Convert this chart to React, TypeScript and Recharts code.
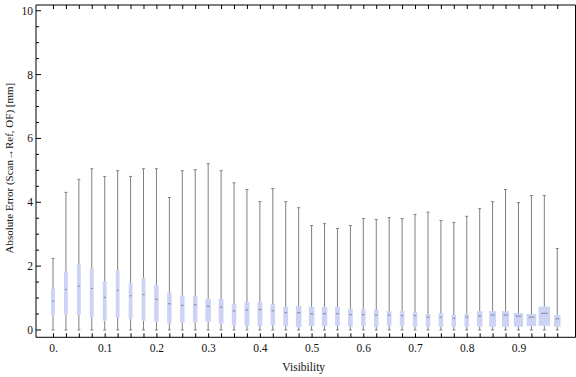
import { ComposedChart, Bar, XAxis, YAxis, Label } from 'recharts';

const visibility = [
  0, 0.025, 0.05, 0.075, 0.1, 0.125, 0.15, 0.175, 0.2, 0.225,
  0.25, 0.275, 0.3, 0.325, 0.35, 0.375, 0.4, 0.425, 0.45, 0.475,
  0.5, 0.525, 0.55, 0.575, 0.6, 0.625, 0.65, 0.675, 0.7, 0.725,
  0.75, 0.775, 0.8, 0.825, 0.85, 0.875, 0.9, 0.925, 0.95, 0.975,
];

// whisker top (max)
const maxErr = [
  2.24, 4.31, 4.72, 5.05, 4.81, 4.99, 4.81, 5.05, 5.05, 4.15,
  4.99, 5.02, 5.21, 4.99, 4.61, 4.4, 4.02, 4.43, 4.02, 3.83,
  3.27, 3.33, 3.18, 3.27, 3.49, 3.46, 3.52, 3.49, 3.62, 3.69,
  3.43, 3.37, 3.56, 3.8, 4.02, 4.4, 3.99, 4.21, 4.21, 2.55,
];

const q3Err = [
  1.28, 1.83, 2.06, 1.93, 1.52, 1.87, 1.47, 1.63, 1.41, 1.17,
  1.09, 1.06, 0.97, 0.97, 0.81, 0.875, 0.875, 0.81, 0.72, 0.75,
  0.72, 0.72, 0.72, 0.66, 0.66, 0.625, 0.59, 0.59, 0.56, 0.5,
  0.53, 0.47, 0.5, 0.59, 0.59, 0.59, 0.53, 0.5, 0.73, 0.47,
];

const medianErr = [
  0.9, 1.27, 1.375, 1.3, 1.02, 1.24, 1.07, 1.11, 0.96, 0.82,
  0.77, 0.79, 0.74, 0.71, 0.6, 0.625, 0.64, 0.6, 0.54, 0.54,
  0.51, 0.51, 0.51, 0.48, 0.48, 0.46, 0.46, 0.45, 0.45, 0.4,
  0.4, 0.365, 0.4, 0.43, 0.47, 0.47, 0.43, 0.4, 0.52, 0.35,
];

const q1Err = [
  0.45, 0.48, 0.48, 0.4, 0.29, 0.375, 0.34, 0.29, 0.26, 0.2,
  0.23, 0.23, 0.26, 0.2, 0.16, 0.125, 0.125, 0.16, 0.125, 0.09,
  0.125, 0.125, 0.125, 0.09, 0.125, 0.09, 0.125, 0.13, 0.1, 0.1,
  0.1, 0.1, 0.1, 0.1, 0.1, 0.1, 0.1, 0.12, 0.13, 0.1,
];

// whisker bottom (min)
const minErr = [
  0, 0, 0, 0, 0, 0, 0, 0, 0, 0,
  0, 0, 0, 0, 0, 0, 0, 0, 0, 0,
  0, 0, 0, 0, 0, 0, 0, 0, 0, 0,
  0, 0, 0, 0, 0, 0, 0, 0, 0, 0,
];

const yTicks = [0, 0.5, 1, 1.5, 2, 2.5, 3, 3.5, 4, 4.5, 5, 5.5, 6, 6.5, 7, 7.5, 8, 8.5, 9, 9.5, 10];

// box widths in px, they grow a bit towards the right end
const BOX_W = [
  3.8, 3.8, 3.8, 3.8, 3.8, 3.8, 3.8, 3.8, 4.5, 4.5,
  4.5, 4.5, 5.5, 4.8, 4.5, 4.8, 4.8, 4.5, 4.8, 5.5,
  5.5, 5.5, 4.8, 4.8, 4.5, 4.5, 4.5, 4.5, 4.5, 4.5,
  4.5, 4.5, 4.5, 5.5, 6.8, 7.2, 9.2, 9.5, 11.5, 6.5,
];

const FONT = '"Liberation Serif", "Times New Roman", serif';
const BOX = '#cdd3f5';
const WHISKER = '#808080';
const MEDIAN = '#8d90a8';

const rows = visibility.map((v, i) => ({
  vis: v,
  base: minErr[i],
  lowW: q1Err[i] - minErr[i],
  lowB: medianErr[i] - q1Err[i],
  upB: q3Err[i] - medianErr[i],
  upW: maxErr[i] - q3Err[i],
}));

const LowWhisker = (p: any) => {
  const cx = p.x + p.width / 2;
  const yb = p.y + p.height;
  return (
    <g>
      <line x1={cx} x2={cx} y1={p.y} y2={yb} stroke={WHISKER} />
      <line x1={cx - 1.5} x2={cx + 1.5} y1={yb} y2={yb} stroke={WHISKER} />
    </g>
  );
};

const HighWhisker = (p: any) => {
  const cx = p.x + p.width / 2;
  return (
    <g>
      <line x1={cx} x2={cx} y1={p.y} y2={p.y + p.height} stroke={WHISKER} />
      <line x1={cx - 1.5} x2={cx + 1.5} y1={p.y} y2={p.y} stroke={WHISKER} />
    </g>
  );
};

const LowBox = (p: any) => {
  const w = BOX_W[p.index];
  const cx = p.x + p.width / 2;
  return <rect x={cx - w / 2} y={p.y} width={w} height={p.height} fill={BOX} />;
};

const HighBox = (p: any) => {
  const w = BOX_W[p.index];
  const cx = p.x + p.width / 2;
  const ym = p.y + p.height;
  return (
    <g>
      <rect x={cx - w / 2} y={p.y} width={w} height={p.height} fill={BOX} />
      <line x1={cx - w * 0.3} x2={cx + w * 0.3} y1={ym} y2={ym} stroke={MEDIAN} strokeWidth={1.2} />
    </g>
  );
};

const BottomTick = (p: any) => {
  const v = p.payload.value;
  const major = Math.round(v * 1000) % 100 === 0;
  return (
    <g>
      <line x1={p.x} x2={p.x} y1={p.y} y2={p.y - 4} stroke="#000" />
      {major && (
        <text x={p.x} y={p.y + 15} textAnchor="middle" style={{ fontFamily: FONT, fontSize: 11.5 }} fill="#111">
          {v === 0 ? '0.' : String(v)}
        </text>
      )}
    </g>
  );
};

const TopTick = (p: any) => (
  <line x1={p.x} x2={p.x} y1={p.y} y2={p.y + 4} stroke="#000" />
);

const LeftTick = (p: any) => {
  const v = p.payload.value;
  const major = v % 2 === 0;
  return (
    <g>
      <line x1={p.x} x2={p.x + (major ? 5 : 3)} y1={p.y} y2={p.y} stroke="#000" />
      {major && (
        <text x={p.x - 3} y={p.y + 4} textAnchor="end" style={{ fontFamily: FONT, fontSize: 11.5 }} fill="#111">
          {v}
        </text>
      )}
    </g>
  );
};

const RightTick = (p: any) => {
  const major = p.payload.value % 2 === 0;
  return <line x1={p.x} x2={p.x - (major ? 5 : 3)} y1={p.y} y2={p.y} stroke="#000" />;
};

const YTitle = ({ viewBox }: any) => {
  const x = viewBox.x + 9.5;
  const y = viewBox.y + viewBox.height / 2 - 3;
  return (
    <text
      x={x}
      y={y}
      transform={`rotate(-90, ${x}, ${y})`}
      textAnchor="middle"
      dominantBaseline="central"
      style={{ fontFamily: FONT, fontSize: 11 }}
      fill="#111"
    >
      Absolute Error (Scan→Ref, OF) [mm]
    </text>
  );
};

const XTitle = ({ viewBox }: any) => (
  <text
    x={viewBox.x + viewBox.width / 2 - 2}
    y={viewBox.y + 34}
    textAnchor="middle"
    style={{ fontFamily: FONT, fontSize: 11.5 }}
    fill="#111"
  >
    Visibility
  </text>
);

export default function App() {
  const pad = { left: 11, right: 11.3 };
  return (
    <div style={{ position: 'absolute', left: 0, top: 0, width: 576, height: 377, background: '#fff' }}>
      <ComposedChart width={576} height={377} data={rows} margin={{ top: 4, right: 0, bottom: 0, left: 0 }}>
        <XAxis
          dataKey="vis"
          type="category"
          scale="band"
          height={39.7}
          padding={pad}
          interval={0}
          tickSize={0}
          tickMargin={0}
          tickLine={false}
          axisLine={{ stroke: '#000' }}
          tick={<BottomTick />}
        >
          <Label content={<XTitle />} />
        </XAxis>
        <XAxis
          xAxisId="top"
          orientation="top"
          dataKey="vis"
          type="category"
          scale="band"
          height={1}
          padding={pad}
          interval={0}
          tickSize={0}
          tickMargin={0}
          tickLine={false}
          axisLine={{ stroke: '#000' }}
          tick={<TopTick />}
        />
        <YAxis
          type="number"
          domain={[-0.23, 10.18]}
          ticks={yTicks}
          interval={0}
          width={36}
          tickSize={0}
          tickMargin={0}
          tickLine={false}
          axisLine={{ stroke: '#000' }}
          tick={<LeftTick />}
        >
          <Label content={<YTitle />} />
        </YAxis>
        <YAxis
          yAxisId="right"
          orientation="right"
          type="number"
          domain={[-0.23, 10.18]}
          ticks={yTicks}
          interval={0}
          width={0.5}
          tickSize={0}
          tickMargin={0}
          tickLine={false}
          axisLine={{ stroke: '#000' }}
          tick={<RightTick />}
        />
        <Bar dataKey="base" stackId="b" barSize={10} fill="none" isAnimationActive={false} />
        <Bar dataKey="lowW" stackId="b" barSize={10} shape={<LowWhisker />} isAnimationActive={false} />
        <Bar dataKey="lowB" stackId="b" barSize={10} shape={<LowBox />} isAnimationActive={false} />
        <Bar dataKey="upB" stackId="b" barSize={10} shape={<HighBox />} isAnimationActive={false} />
        <Bar dataKey="upW" stackId="b" barSize={10} shape={<HighWhisker />} isAnimationActive={false} />
      </ComposedChart>
    </div>
  );
}
